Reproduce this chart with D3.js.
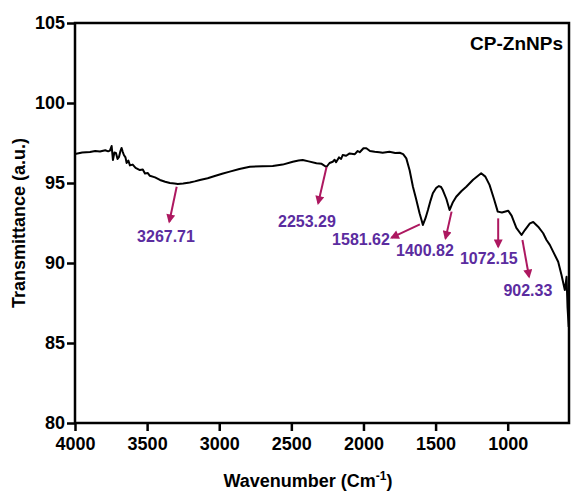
<!DOCTYPE html>
<html>
<head>
<meta charset="utf-8">
<script src="https://cdn.jsdelivr.net/npm/d3@7"></script>
<style>
  body { margin: 0; background: #fff; }
  text { font-family: "Liberation Sans", Arial, sans-serif; font-weight: bold; }
</style>
</head>
<body>
<div id="chart"></div>
<script>
// FTIR spectrum
const wavenumber = [4000, 3950, 3896, 3860, 3827, 3790, 3770, 3758, 3746, 3737, 3727, 3716, 3705, 3695, 3685, 3677,
  3669, 3661, 3650, 3642, 3630, 3619, 3600, 3580, 3550, 3530, 3515, 3495, 3481, 3445, 3411, 3375, 3342, 3310,
  3287, 3250, 3204, 3170, 3134, 3080, 3031, 2980, 2927, 2860, 2788, 2700, 2629, 2560, 2490, 2450,
  2421, 2380, 2326, 2290, 2257, 2235, 2213, 2200, 2190, 2170, 2155, 2144, 2120, 2096, 2060, 2040, 2026, 2000, 1980,
  1955, 1922, 1890, 1867, 1820, 1780, 1749, 1725, 1703, 1680, 1657, 1635, 1611, 1598, 1588, 1570,
  1553, 1535, 1519, 1495, 1477, 1462, 1450, 1425, 1403, 1380, 1357, 1320, 1287, 1240, 1184, 1155,
  1126, 1095, 1069, 1040, 997, 973, 940, 904, 881, 846, 823, 789, 754, 731, 708, 685,
  650, 627, 604, 598, 592, 585, 577];
const transmittance = [96.81, 96.9, 96.94, 97.0, 96.97, 97.05, 96.98, 97.02, 97.31, 96.44, 96.9, 96.88, 96.5, 96.63, 97.0, 97.19,
  96.95, 96.75, 96.6, 96.25, 96.4, 96.1, 96.15, 95.95, 95.81, 95.85, 95.6, 95.62, 95.45, 95.35, 95.19, 95.08, 95.0, 94.97,
  94.94, 94.97, 95.03, 95.1, 95.19, 95.3, 95.44, 95.58, 95.71, 95.88, 96.02, 96.05, 96.06, 96.15, 96.33, 96.4,
  96.44, 96.35, 96.23, 96.2, 96.0, 96.25, 96.33, 96.45, 96.3, 96.6, 96.5, 96.75, 96.7, 96.85, 96.8, 97.0, 96.92, 97.17, 97.17,
  97.0, 96.95, 96.92, 96.89, 96.95, 96.88, 96.89, 96.8, 96.54, 95.8, 94.77, 94.0, 93.11, 92.7, 92.38, 92.8,
  93.31, 93.9, 94.36, 94.7, 94.81, 94.75, 94.56, 94.0, 93.31, 93.8, 94.14, 94.5, 94.77, 95.2, 95.61, 95.4,
  94.88, 94.0, 93.21, 93.16, 93.27, 92.96, 92.19, 91.75, 92.06, 92.48, 92.56, 92.27, 91.86, 91.44, 91.13, 90.71,
  90.08, 89.25, 88.31, 88.7, 89.14, 87.2, 86.0];

// peak annotations: arrow from (wn, T) on the curve to (wn, T) below, label centre
const peakLabels = ['3267.71', '2253.29', '1581.62', '1400.82', '1072.15', '902.33'];
const arrowFrom = [[3295, 94.77], [2256, 96.0], [1609, 92.42], [1389, 93.21], [1066, 92.79], [898, 91.44]];
const arrowTo = [[3346, 92.58], [2314, 93.73], [1805, 91.58], [1431, 91.54], [1066, 91.02], [852, 89.14]];
const labelAt = [[3369, 91.63], [2392, 92.58], [2017, 91.44], [1574, 90.81], [1131, 90.29], [860, 88.27]];

const xTicks = [4000, 3500, 3000, 2500, 2000, 1500, 1000];
const yTicks = [80, 85, 90, 95, 100, 105];

const WIDTH = 572;
const HEIGHT = 492;
const MARGIN = { left: 75, top: 23, right: 3, bottom: 69 };
const ARROW_COLOR = '#ad1860';
const LABEL_COLOR = '#5b2c9f';

const svg = d3.select('#chart')
  .append('svg')
  .attr('width', WIDTH)
  .attr('height', HEIGHT);

const xScale = d3.scaleLinear()
  .domain([4000, 575])
  .range([MARGIN.left, WIDTH - MARGIN.right]);

const yScale = d3.scaleLinear()
  .domain([80, 105])
  .range([HEIGHT - MARGIN.bottom, MARGIN.top]);

// frame (top and right sides)
svg.append('rect')
  .attr('x', MARGIN.left)
  .attr('y', MARGIN.top)
  .attr('width', xScale.range()[1] - MARGIN.left)
  .attr('height', yScale.range()[0] - MARGIN.top)
  .attr('fill', 'none')
  .attr('stroke', '#000')
  .attr('stroke-width', 2.5);

// axes
const xAxis = d3.axisBottom(xScale)
  .tickValues(xTicks)
  .tickSize(8)
  .tickPadding(6)
  .tickFormat(d3.format('d'));

const yAxis = d3.axisLeft(yScale)
  .tickValues(yTicks)
  .tickSize(8)
  .tickPadding(2);

svg.append('g')
  .attr('class', 'xAxis')
  .attr('transform', `translate(0, ${yScale(80)})`)
  .call(xAxis);

svg.append('g')
  .attr('class', 'yAxis')
  .attr('transform', `translate(${MARGIN.left}, 0)`)
  .call(yAxis);

svg.selectAll('.xAxis, .yAxis')
  .selectAll('path, line')
  .attr('stroke', '#000')
  .attr('stroke-width', 2.5);

svg.selectAll('.xAxis .domain, .yAxis .domain').remove();

svg.selectAll('.xAxis text, .yAxis text')
  .attr('fill', '#000')
  .style('font-size', '18px')
  .style('font-family', '"Liberation Sans", Arial, sans-serif')
  .style('font-weight', 'bold');

// spectrum line
const spectrum = wavenumber.map((w, i) => ({ w: w, t: transmittance[i] }));

const line = d3.line()
  .x(d => xScale(d.w))
  .y(d => yScale(d.t));

svg.append('path')
  .datum(spectrum)
  .attr('d', line)
  .attr('fill', 'none')
  .attr('stroke', '#000')
  .attr('stroke-width', 2)
  .attr('stroke-linejoin', 'round');

// arrow head
svg.append('defs')
  .append('marker')
  .attr('id', 'head')
  .attr('viewBox', '0 0 10 10')
  .attr('refX', 8)
  .attr('refY', 5)
  .attr('markerWidth', 10)
  .attr('markerHeight', 9)
  .attr('markerUnits', 'userSpaceOnUse')
  .attr('orient', 'auto')
  .append('path')
  .attr('d', 'M0,0 L10,5 L0,10 Z')
  .attr('fill', ARROW_COLOR);

svg.selectAll('.peak-arrow')
  .data(peakLabels)
  .join('line')
  .attr('class', 'peak-arrow')
  .attr('x1', (d, i) => xScale(arrowFrom[i][0]))
  .attr('y1', (d, i) => yScale(arrowFrom[i][1]))
  .attr('x2', (d, i) => xScale(arrowTo[i][0]))
  .attr('y2', (d, i) => yScale(arrowTo[i][1]))
  .attr('stroke', ARROW_COLOR)
  .attr('stroke-width', 2)
  .attr('marker-end', 'url(#head)');

svg.selectAll('.peak-label')
  .data(peakLabels)
  .join('text')
  .attr('class', 'peak-label')
  .attr('x', (d, i) => xScale(labelAt[i][0]))
  .attr('y', (d, i) => yScale(labelAt[i][1]))
  .attr('text-anchor', 'middle')
  .attr('dominant-baseline', 'central')
  .attr('fill', LABEL_COLOR)
  .style('font-size', '16px')
  .text(d => d);

// sample name
svg.append('text')
  .attr('x', 563)
  .attr('y', 50)
  .attr('text-anchor', 'end')
  .style('font-size', '19px')
  .text('CP-ZnNPs');

// axis titles
svg.append('text')
  .attr('transform', `translate(25, ${yScale(92.5)}) rotate(-90)`)
  .attr('text-anchor', 'middle')
  .style('font-size', '18px')
  .text('Transmittance (a.u.)');

const xTitle = svg.append('text')
  .attr('x', 308)
  .attr('y', 487)
  .attr('text-anchor', 'middle')
  .style('font-size', '18px');
xTitle.append('tspan').text('Wavenumber (Cm');
xTitle.append('tspan').attr('dy', -7).style('font-size', '12px').text('-1');
xTitle.append('tspan').attr('dy', 7).text(')');
</script>
</body>
</html>
